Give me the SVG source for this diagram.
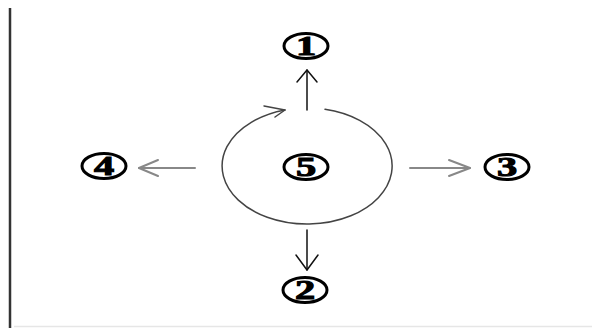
<svg xmlns="http://www.w3.org/2000/svg" width="592" height="328" viewBox="0 0 592 328">
<style>
.ring{fill:#fff;stroke:#000;stroke-width:3}
.num{font-family:"Liberation Serif",serif;font-weight:bold;font-size:27px;fill:#000;stroke:#000;stroke-width:1;text-anchor:middle;dominant-baseline:central}
.ln{fill:none;stroke-linecap:round;stroke-linejoin:round}
</style>
<rect width="592" height="328" fill="#fff"/>
<line x1="10" y1="8" x2="10" y2="328" stroke="#333" stroke-width="2.5"/>
<line x1="14" y1="326.5" x2="592" y2="326.5" stroke="#e6e6e6" stroke-width="1.5"/>
<g id="connectors">
  <g class="ln" stroke="#111" stroke-width="1.5">
    <line x1="307" y1="110" x2="307" y2="70"/>
    <polyline points="297,82 307,70 317,82"/>
    <line x1="307" y1="230" x2="307" y2="270"/>
    <polyline points="296,255 307,270 318,255"/>
  </g>
  <g class="ln" stroke="#888" stroke-width="2">
    <line x1="195" y1="168" x2="139" y2="168"/>
    <polyline points="158,160 139,168 158,176"/>
    <line x1="410" y1="168" x2="470" y2="168"/>
    <polyline points="449,160 470,168 449,176"/>
  </g>
  <g class="ln" stroke="#444" stroke-width="1.5">
    <path d="M325,109.3 A85,58 0 1 1 285,110"/>
    <polyline points="264,106 285,110 275,117"/>
  </g>
</g>
<g id="n1"><ellipse class="ring" cx="306" cy="46" rx="22" ry="12.5"/><text class="num" transform="translate(306,46) scale(1.5,1)">1</text></g>
<g id="n2"><ellipse class="ring" cx="305" cy="290" rx="22" ry="12.5"/><text class="num" transform="translate(305,290) scale(1.5,1)">2</text></g>
<g id="n3"><ellipse class="ring" cx="507" cy="167" rx="22" ry="12.5"/><text class="num" transform="translate(507,167) scale(1.5,1)">3</text></g>
<g id="n4"><ellipse class="ring" cx="104" cy="166" rx="22" ry="12.5"/><text class="num" transform="translate(104,166) scale(1.5,1)">4</text></g>
<g id="n5"><ellipse class="ring" cx="306" cy="167" rx="22" ry="12.5"/><text class="num" transform="translate(306,167) scale(1.5,1)">5</text></g>
</svg>
